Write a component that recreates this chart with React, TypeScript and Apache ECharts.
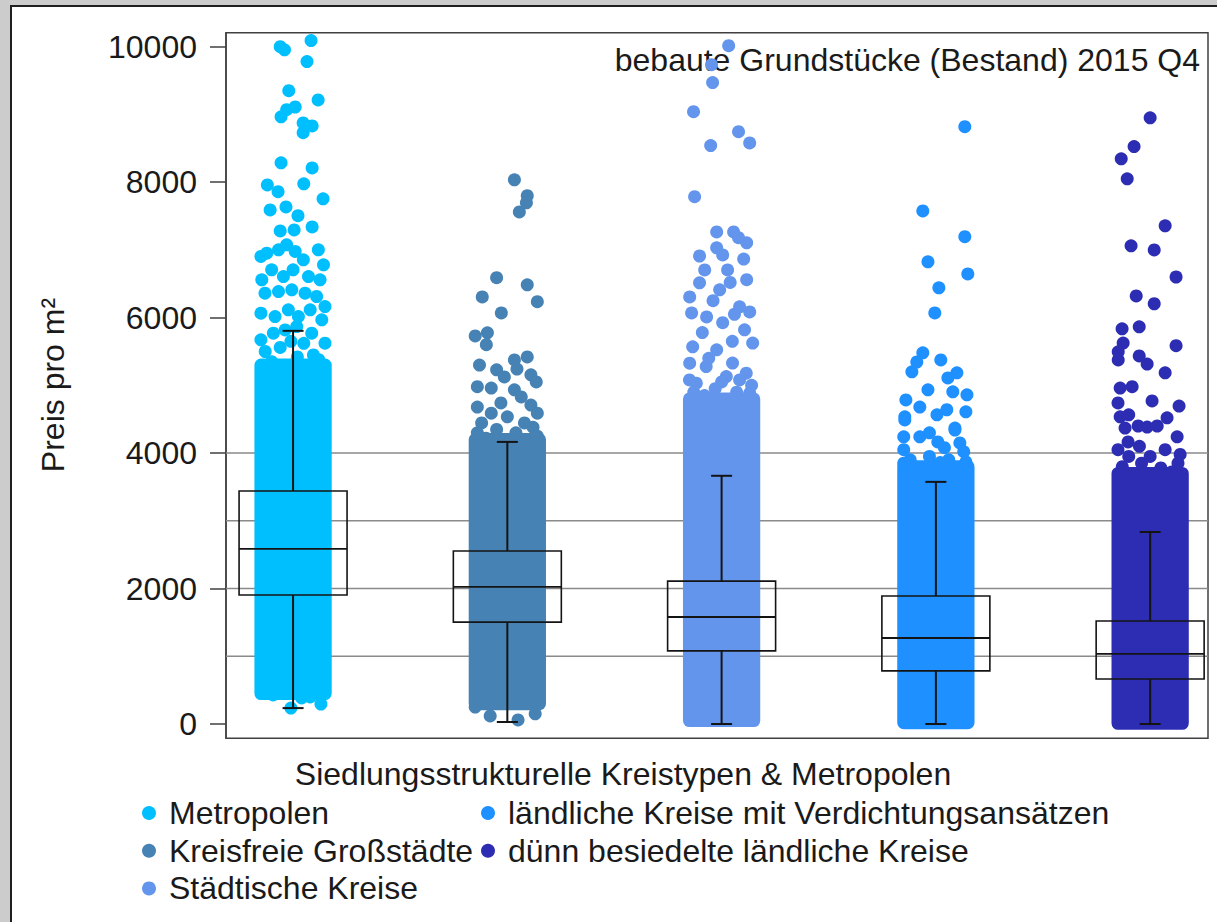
import React, { useEffect, useRef } from "react";
import * as echarts from "echarts";

// ---------- data ----------
const categories = [
  "Metropolen",
  "Kreisfreie Großstädte",
  "Städtische Kreise",
  "ländliche Kreise mit Verdichtungsansätzen",
  "dünn besiedelte ländliche Kreise",
];
const yTicks = [0, 2000, 4000, 6000, 8000, 10000];
const refLines = [1000, 2000, 3000, 4000];

// box plot statistics (Preis pro m²)
const whiskerLow = [235, 30, 0, 0, 0];
const q1 = [1905, 1505, 1080, 785, 665];
const median = [2585, 2025, 1580, 1270, 1035];
const q3 = [3440, 2555, 2110, 1890, 1520];
const whiskerHigh = [5805, 4165, 3665, 3575, 2835];

// range of the fully overlapped (solid) core of each jittered cloud
const denseLow = [450, 300, 50, 20, 10];
const denseHigh = [5300, 4200, 4800, 3800, 3700];

// individually visible points: [jitter offset (category units), value]
const pointsMetropolen: [number, number][] = [
  [-0.06, 10000], [-0.04, 9955], [0.084, 10090], [0.065, 9780], [-0.02, 9350], [0.117, 9215],
  [0.01, 9110], [-0.03, 9070], [-0.056, 8965], [0.047, 8875], [0.089, 8830], [0.047, 8730],
  [-0.056, 8285], [0.089, 8210], [0.05, 7975], [-0.12, 7960], [-0.07, 7860], [0.14, 7755],
  [-0.107, 7590], [-0.033, 7635], [0.023, 7505], [-0.06, 7280], [0.005, 7295], [0.089, 7340],
  [-0.03, 7075], [-0.068, 7001], [0.01, 6977], [0.048, 6853], [0.118, 7001], [0.142, 6780],
  [-0.15, 6903], [-0.123, 6952], [-0.146, 6558], [-0.1, 6706], [-0.045, 6607], [0.0, 6706],
  [0.072, 6607], [0.126, 6558], [-0.131, 6361], [-0.068, 6385], [-0.006, 6410], [0.056, 6361],
  [0.11, 6312], [0.149, 6164], [-0.15, 6066], [-0.084, 6016], [-0.022, 6115], [0.025, 6016],
  [0.08, 6115], [0.134, 5967], [-0.15, 5672], [-0.092, 5770], [-0.037, 5819], [0.017, 5869],
  [0.087, 5770], [0.149, 5622], [0.095, 5450], [0.142, 5155],
  [-0.13, 5500], [-0.06, 5560], [0.02, 5420], [0.05, 5620], [0.12, 5380], [-0.1, 5350], [-0.01, 5650],
  [-0.12, 605], [-0.093, 430], [-0.01, 235], [0.04, 385], [0.08, 400], [0.13, 295], [0.126, 575],
];
const pointsGrossstaedte: [number, number][] = [
  [0.033, 8035], [0.093, 7800], [0.056, 7560], [0.089, 7695], [-0.05, 6590], [0.093, 6485],
  [-0.117, 6305], [0.14, 6235], [-0.028, 6070],
  [-0.15, 5730], [-0.093, 5775], [-0.098, 5600], [0.033, 5375], [0.093, 5420], [-0.13, 5300],
  [-0.05, 5230], [-0.014, 5125], [0.11, 5155], [0.135, 5050], [-0.14, 4980], [-0.075, 4960],
  [0.033, 4935], [0.065, 4830], [-0.14, 4680], [-0.075, 4590], [0.11, 4710], [0.14, 4590],
  [0.0, 4535], [-0.12, 4445], [0.08, 4445], [0.045, 5240], [-0.03, 4740],
  [-0.14, 4300], [-0.05, 4350], [0.04, 4300], [0.12, 4380], [-0.1, 4220], [0.14, 4250],
  [-0.15, 250], [-0.08, 120], [0.13, 150], [0.05, 60],
];
const pointsStaedtisch: [number, number][] = [
  [0.033, 10015], [-0.047, 9735], [-0.042, 9470], [-0.131, 9040], [0.079, 8745], [-0.051, 8540],
  [0.131, 8580], [-0.126, 7785],
  [-0.023, 7265], [0.056, 7265], [0.079, 7180], [0.117, 7105], [-0.023, 7030], [0.005, 6925],
  [-0.103, 6910], [0.103, 6865], [-0.079, 6705], [0.028, 6705], [0.117, 6560], [-0.103, 6515],
  [-0.149, 6305], [-0.009, 6410], [0.084, 6160], [0.131, 6085], [-0.14, 6070], [-0.07, 6010],
  [0.005, 5925], [0.107, 5820], [0.145, 5625], [-0.135, 5570], [-0.023, 5525], [0.051, 5330],
  [0.131, 4884], [-0.149, 5327], [-0.072, 5278], [0.022, 5130], [0.084, 5081], [-0.118, 5032],
  [0.115, 5180], [-0.15, 5081], [0.05, 5650], [-0.09, 5780], [0.06, 6050], [-0.04, 6250],
  [0.04, 6520], [-0.06, 5400],
  [-0.13, 4900], [-0.03, 4950], [0.07, 4900], [0.14, 5000], [0.0, 5050], [-0.08, 4850],
];
const pointsLaendlichV: [number, number][] = [
  [0.135, 8820], [-0.061, 7575], [0.135, 7195], [-0.037, 6825], [0.149, 6645], [0.014, 6440],
  [-0.005, 6070], [-0.061, 5480], [-0.089, 5345], [-0.112, 5200], [0.023, 5375], [0.098, 5185],
  [0.056, 5110], [-0.037, 4935], [0.079, 4905], [0.145, 4860], [-0.14, 4785], [-0.075, 4680],
  [0.005, 4565], [0.051, 4640], [0.14, 4610], [-0.145, 4535], [0.089, 4370], [-0.145, 4490],
  [0.089, 4340], [-0.15, 4240], [-0.075, 4240], [0.009, 4165], [0.112, 4150], [-0.15, 4050],
  [-0.03, 4300], [0.04, 4080], [0.13, 4020],
  [-0.12, 3900], [-0.03, 3950], [0.06, 3900], [0.14, 3870], [-0.15, 3850], [0.02, 3860],
];
const pointsDuenn: [number, number][] = [
  [0.0, 8950], [-0.075, 8525], [-0.135, 8345], [-0.107, 8050], [0.07, 7355], [-0.089, 7060],
  [0.019, 7000], [0.121, 6600], [-0.065, 6320], [0.019, 6205], [-0.131, 5835], [-0.051, 5865],
  [0.121, 5585], [-0.126, 5625], [-0.149, 5495], [-0.149, 5375], [-0.051, 5435], [-0.014, 5315],
  [0.07, 5185], [-0.14, 4960], [-0.084, 4980], [0.009, 4770], [0.135, 4695], [-0.15, 4740],
  [-0.14, 4535], [-0.1, 4565], [-0.014, 4385], [0.079, 4520], [0.126, 4240], [-0.117, 4370],
  [-0.056, 4400], [0.033, 4400], [-0.103, 4165], [-0.05, 4100], [0.07, 4050], [0.14, 3980],
  [-0.15, 4050],
  [-0.13, 3800], [-0.04, 3850], [0.05, 3780], [0.13, 3850], [0.0, 3950], [-0.1, 3950], [0.1, 3720],
];
const pointsByCategory = [pointsMetropolen, pointsGrossstaedte, pointsStaedtisch, pointsLaendlichV, pointsDuenn];

// ---------- styles ----------
const COLORS = ["#00BFFF", "#4682B4", "#6495ED", "#1E90FF", "#2D2DB4"];
const FONT = "'Liberation Sans', Arial, sans-serif";
const FS = 32;
const TXT = "#1a1a1a";
const JITTER = 0.15; // half jitter width in category units
const DOT = 13;
const BOX_HALF = 0.252;
const CAP_HALF = 0.049;

export default function App() {
  const ref = useRef<HTMLDivElement>(null);
  useEffect(() => {
    const chart = echarts.init(ref.current!, null, { renderer: "svg" });

    const scatterSeries = categories.map((name, i) => ({
      type: "scatter",
      name,
      z: 3,
      symbol: "circle",
      symbolSize: DOT,
      itemStyle: { color: COLORS[i], opacity: 1 },
      data: pointsByCategory[i].map(([off, v]) => [i + off, v]),
      silent: true,
    }));

    const legendCommon = {
      orient: "vertical",
      top: 797,
      padding: 0,
      itemGap: 5.7,
      itemWidth: 30,
      itemHeight: 14,
      icon: "circle",
      selectedMode: false,
      textStyle: { fontSize: FS, color: TXT, fontFamily: FONT, lineHeight: 32 },
    };

    const option: any = {
      animation: false,
      backgroundColor: "#ffffff",
      textStyle: { fontFamily: FONT },
      grid: {
        left: 226,
        right: 9,
        top: 32.7,
        bottom: 183.7,
        show: true,
        borderColor: "#404040",
        borderWidth: 1.5,
        backgroundColor: "transparent",
      },
      xAxis: {
        type: "value",
        min: -0.313,
        max: 4.27,
        show: false,
      },
      yAxis: {
        type: "value",
        min: -211,
        max: 10207,
        axisLine: { show: true, onZero: false, lineStyle: { color: "#404040", width: 1.5 } },
        axisTick: { show: true, customValues: yTicks, length: 16, lineStyle: { color: "#404040", width: 1.5 } },
        axisLabel: {
          show: true,
          customValues: yTicks,
          margin: 29,
          fontSize: FS,
          color: TXT,
          fontFamily: FONT,
          formatter: (v: number) => String(v),
        },
        splitLine: { show: false },
      },
      legend: [
        { ...legendCommon, data: categories.slice(0, 3), left: 142 },
        { ...legendCommon, data: categories.slice(3), left: 481 },
      ],
      graphic: [
        { type: "rect", silent: true, shape: { x: 0, y: 0, width: 1217, height: 5 }, style: { fill: "#cccccc" } },
        { type: "rect", silent: true, shape: { x: 0, y: 0, width: 10, height: 922 }, style: { fill: "#cccccc" } },
        { type: "line", silent: true, shape: { x1: 10, y1: 6, x2: 1217, y2: 6 }, style: { stroke: "#1f1f1f", lineWidth: 2 } },
        { type: "line", silent: true, shape: { x1: 11, y1: 5, x2: 11, y2: 922 }, style: { stroke: "#1f1f1f", lineWidth: 2 } },
        {
          type: "text",
          silent: true,
          x: 1200,
          y: 60,
          style: {
            text: "bebaute Grundstücke (Bestand) 2015 Q4",
            fontSize: FS,
            fontFamily: FONT,
            fill: TXT,
            align: "right",
            verticalAlign: "middle",
          },
        },
        {
          type: "text",
          silent: true,
          x: 53,
          y: 385,
          rotation: Math.PI / 2,
          style: {
            text: "Preis pro m²",
            fontSize: FS,
            fontFamily: FONT,
            fill: TXT,
            align: "center",
            verticalAlign: "middle",
          },
        },
        {
          type: "text",
          silent: true,
          x: 623,
          y: 774,
          style: {
            text: "Siedlungsstrukturelle Kreistypen & Metropolen",
            fontSize: FS,
            fontFamily: FONT,
            fill: TXT,
            align: "center",
            verticalAlign: "middle",
          },
        },
      ],
      series: [
        {
          type: "custom",
          name: "refLines",
          z: 1,
          silent: true,
          encode: { x: 0, y: 1 },
          data: refLines.map((v) => [0, v]),
          renderItem: (params: any, api: any) => {
            const y = api.coord([0, api.value(1)])[1];
            const cs = params.coordSys;
            return {
              type: "line",
              shape: { x1: cs.x, y1: y, x2: cs.x + cs.width, y2: y },
              style: { stroke: "#8a8a8a", lineWidth: 1.5 },
            };
          },
        },
        {
          type: "custom",
          name: "denseCore",
          z: 3,
          silent: true,
          encode: { x: 0, y: [1, 2] },
          data: categories.map((_, i) => [i, denseLow[i], denseHigh[i]]),
          renderItem: (params: any, api: any) => {
            const i = api.value(0);
            const cx = api.coord([i, 0])[0];
            const yLo = api.coord([i, api.value(1)])[1];
            const yHi = api.coord([i, api.value(2)])[1];
            const hw = api.size([JITTER, 0])[0] + DOT / 2;
            return {
              type: "rect",
              shape: { x: cx - hw, y: yHi - DOT / 2, width: hw * 2, height: yLo - yHi + DOT, r: DOT / 2 },
              style: { fill: COLORS[i] },
            };
          },
        },
        ...scatterSeries,
        {
          type: "custom",
          name: "boxes",
          z: 5,
          silent: true,
          encode: { x: 0, y: [1, 2, 3, 4, 5] },
          data: categories.map((_, i) => [i, whiskerLow[i], q1[i], median[i], q3[i], whiskerHigh[i]]),
          renderItem: (params: any, api: any) => {
            const i = api.value(0);
            const cx = api.coord([i, 0])[0];
            const yLow = api.coord([i, api.value(1)])[1];
            const yQ1 = api.coord([i, api.value(2)])[1];
            const yMed = api.coord([i, api.value(3)])[1];
            const yQ3 = api.coord([i, api.value(4)])[1];
            const yHigh = api.coord([i, api.value(5)])[1];
            const bh = api.size([BOX_HALF, 0])[0];
            const ch = api.size([CAP_HALF, 0])[0];
            const stroke = "#141414";
            const ls = { stroke, lineWidth: 1.6, fill: "none" };
            return {
              type: "group",
              children: [
                { type: "rect", shape: { x: cx - bh, y: yQ3, width: bh * 2, height: yQ1 - yQ3 }, style: ls },
                { type: "line", shape: { x1: cx - bh, y1: yMed, x2: cx + bh, y2: yMed }, style: { stroke, lineWidth: 1.8 } },
                { type: "line", shape: { x1: cx, y1: yQ3, x2: cx, y2: yHigh }, style: { stroke, lineWidth: 2 } },
                { type: "line", shape: { x1: cx, y1: yQ1, x2: cx, y2: yLow }, style: { stroke, lineWidth: 2 } },
                { type: "line", shape: { x1: cx - ch, y1: yHigh, x2: cx + ch, y2: yHigh }, style: { stroke, lineWidth: 2 } },
                { type: "line", shape: { x1: cx - ch, y1: yLow, x2: cx + ch, y2: yLow }, style: { stroke, lineWidth: 2 } },
              ],
            };
          },
        },
      ],
    };

    chart.setOption(option);
    return () => chart.dispose();
  }, []);

  return (
    <div
      ref={ref}
      style={{ position: "absolute", left: 0, top: 0, width: 1217, height: 922 }}
    />
  );
}
